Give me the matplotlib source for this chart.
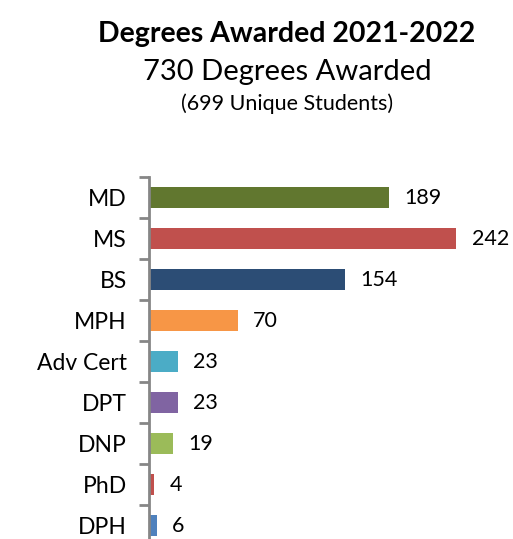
import numpy as np
import matplotlib.pyplot as plt

plt.rcParams['font.family'] = ['Lato', 'DejaVu Sans']

degrees = ['MD', 'MS', 'BS', 'MPH', 'Adv Cert', 'DPT', 'DNP', 'PhD', 'DPH']
counts = [189, 242, 154, 70, 23, 23, 19, 4, 6]
colors = ['#61772F', '#C0504D', '#2C4D75', '#F79646', '#4BACC6',
          '#8064A2', '#9BBB59', '#C0504D', '#4F81BD']

fig = plt.figure(figsize=(5.13, 5.39), dpi=100)
# axes runs past the bottom of the figure, as in the original
ax = fig.add_axes([149/513, -0.013, 1 - 149/513, 0.6846])

y = np.arange(len(degrees))
ax.barh(y, counts, height=0.52, color=colors)
ax.set_ylim(len(degrees) - 0.5, -0.5)
ax.set_xlim(0, 286.6)

for yi, c in zip(y, counts):
    ax.text(c + 12, yi, str(c), va='center', ha='left', fontsize=15.5)

# ticks at category boundaries, labels at centers
ax.set_yticks(np.arange(len(degrees) + 1) - 0.5)
ax.set_yticklabels([])
ax.set_yticks(y, minor=True)
ax.set_yticklabels(degrees, minor=True, fontsize=16.5)
ax.tick_params(axis='y', which='major', length=7, width=2, color='#868686')
ax.tick_params(axis='y', which='minor', length=0, pad=16)
ax.set_xticks([])

for s in ['top', 'right', 'bottom']:
    ax.spines[s].set_visible(False)
ax.spines['left'].set_color('#868686')
ax.spines['left'].set_linewidth(2)

fig.text(287/513, 1 - 34/539, 'Degrees Awarded 2021-2022', ha='center', va='center',
         fontsize=20.5, fontweight='bold')
fig.text(287/513, 1 - 72/539, '730 Degrees Awarded', ha='center', va='center', fontsize=21)
fig.text(287/513, 1 - 104/539, '(699 Unique Students)', ha='center', va='center', fontsize=15.5)

plt.savefig('out.png', dpi=100)
